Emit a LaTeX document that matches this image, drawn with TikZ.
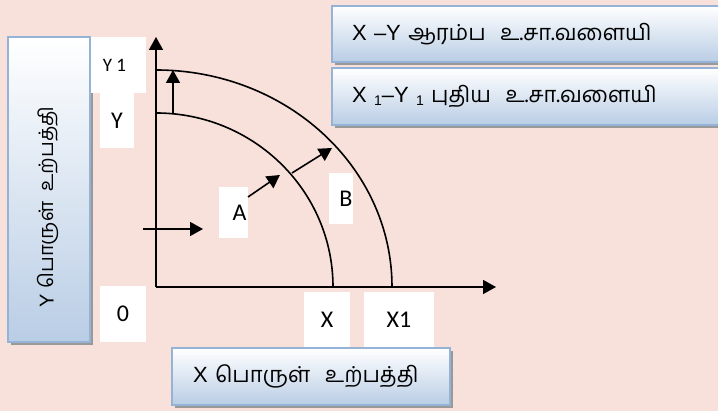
\documentclass[tikz,border=0pt]{standalone}
\usepackage{fontspec}
\setmainfont{Carlito}
\newfontfamily\tamilfont[Script=Tamil]{Hind Madurai}
\newfontfamily\boxfont{Liberation Sans}
\usetikzlibrary{arrows.meta,shadows}

\definecolor{bgpink}{HTML}{F9E1DB}
\definecolor{boxblue}{HTML}{B9CDE5}
\definecolor{edgeblue}{HTML}{95B3D7}

\tikzset{
  gbox/.style={draw=edgeblue, line width=1.5pt, top color=white, bottom color=boxblue,
    drop shadow={shadow xshift=3pt, shadow yshift=-3pt, fill=gray!80, opacity=1},
    font=\boxfont\fontsize{22}{26}\selectfont, inner sep=0pt},
  wlbl/.style={fill=white, inner sep=0pt, font=\fontsize{24}{28}\selectfont},
  arr/.style={line width=1.6pt, -{Triangle[length=13pt,width=14pt]}}
}

\begin{document}
\begin{tikzpicture}[x=1pt,y=1pt]
\fill[bgpink] (0,0) rectangle (718,411);
\useasboundingbox (0,0) rectangle (718,411);
% label boxes
\node[gbox, minimum width=82pt, minimum height=305pt] (yprod) at (49,221.5) {};
\node[rotate=90, font=\boxfont\fontsize{20}{24}\selectfont] (yprodtxt) at (48,204) {Y {\tamilfont பொருள்\ \ உற்பத்தி}};
\node[gbox, minimum width=393pt, minimum height=56pt, text width=353pt, align=left, inner xsep=20pt] (curve0) at (528.5,377) {X –Y {\tamilfont ஆரம்ப\ \ உ.சா.வளையி}};
\node[gbox, minimum width=393pt, minimum height=57pt, text width=353pt, align=left, inner xsep=20pt] (curve1) at (528.5,314.5) {X {\fontsize{14}{14}\selectfont\raisebox{-3pt}{1}}–Y {\fontsize{14}{14}\selectfont\raisebox{-3pt}{1}}{\tamilfont\ புதிய\ \ உ.சா.வளையி}};
\node[gbox, minimum width=278pt, minimum height=57pt, text width=236pt, align=left, inner xsep=21pt] (xprod) at (311,34.5) {X {\tamilfont பொருள்\ \ உற்பத்தி}};
% white labels
\node[wlbl, minimum width=55pt, minimum height=56pt, font=\fontsize{19}{22}\selectfont] (ya) at (118.5,346) {Y 1\hspace*{8pt}};
\node[wlbl, minimum width=34pt, minimum height=55pt] (yb) at (117,290.5) {Y};
\node[wlbl, minimum width=46pt, minimum height=56pt] (zero) at (123,97) {0};
\node[wlbl, minimum width=46pt, minimum height=55pt] (xa) at (327,91.5) {X};
\node[wlbl, minimum width=70pt, minimum height=55pt] (xb) at (399,91.5) {X1};
\node[wlbl, minimum width=29pt, minimum height=51pt] (A) at (233.5,198.5) {\hspace*{12pt}A};
\node[wlbl, minimum width=18pt, minimum height=51pt] (B) at (341,212.5) {\hspace*{10pt}B};
% axes
\coordinate (O) at (156,124);
\coordinate (ytop) at (156,374);
\coordinate (xend) at (496,124);
\draw[arr] (O) -- (ytop);
\draw[arr] (O) -- (xend);
% curves
\draw[line width=1.6pt] (156,298) arc[start angle=90, end angle=0, x radius=177, y radius=174];
\draw[line width=1.6pt] (156,341) arc[start angle=90, end angle=0, x radius=236, y radius=217];
% shift arrows
\coordinate (v0) at (173,298);
\coordinate (v1) at (173,341);
\draw[arr] (v0) -- (v1);
\coordinate (d0) at (248,214);
\coordinate (d1) at (280,236);
\draw[arr] (d0) -- (d1);
\coordinate (d2) at (292,238);
\coordinate (d3) at (332,263);
\draw[arr] (d2) -- (d3);
\coordinate (h0) at (143,182);
\coordinate (h1) at (203,182);
\draw[arr] (h0) -- (h1);
\end{tikzpicture}
\end{document}
